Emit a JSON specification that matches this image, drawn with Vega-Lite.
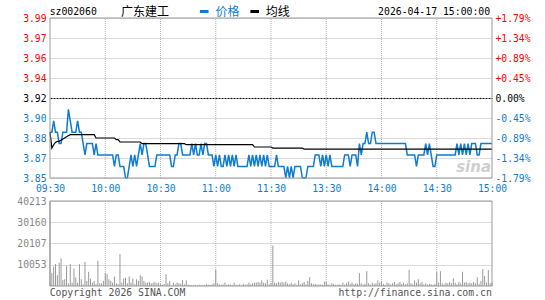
{
"$schema":"https://vega.github.io/schema/vega-lite/v6.json",
"width":442,"height":268,
"autosize":{"type":"none"},
"padding":{"left":50,"top":18,"right":53,"bottom":14},
"background":"white",
"config":{"view":{"stroke":null},"axis":{"labelFont":"DejaVu Sans Mono","labelFontSize":9.7,"ticks":false,"domain":false,"title":null,"labelOverlap":false}},
"datasets":{
"grid":[{"t":30},{"t":60},{"t":90},{"t":120},{"t":150},{"t":180},{"t":210}],
"minute":[
{"m":0,"p":3.89,"a":3.890,"v":40213},{"m":1,"p":3.89,"a":3.876,"v":6065},{"m":2,"p":3.90,"a":3.879,"v":9100},{"m":3,"p":3.89,"a":3.881,"v":10370},{"m":4,"p":3.89,"a":3.882,"v":5100},{"m":5,"p":3.88,"a":3.882,"v":11000},{"m":6,"p":3.88,"a":3.883,"v":13090},{"m":7,"p":3.89,"a":3.884,"v":2870},{"m":8,"p":3.89,"a":3.885,"v":3190},{"m":9,"p":3.89,"a":3.886,"v":9570},
{"m":10,"p":3.91,"a":3.887,"v":1200},{"m":11,"p":3.90,"a":3.8878,"v":10370},{"m":12,"p":3.89,"a":3.8878,"v":1600},{"m":13,"p":3.89,"a":3.8878,"v":8300},{"m":14,"p":3.89,"a":3.8878,"v":4000},{"m":15,"p":3.90,"a":3.8878,"v":1600},{"m":16,"p":3.89,"a":3.8878,"v":10370},{"m":17,"p":3.89,"a":3.8878,"v":3200},{"m":18,"p":3.88,"a":3.8878,"v":800},{"m":19,"p":3.87,"a":3.8878,"v":11490},
{"m":20,"p":3.88,"a":3.8878,"v":2400},{"m":21,"p":3.88,"a":3.8878,"v":6700},{"m":22,"p":3.88,"a":3.8878,"v":3500},{"m":23,"p":3.88,"a":3.8878,"v":1600},{"m":24,"p":3.87,"a":3.8878,"v":2400},{"m":25,"p":3.88,"a":3.8849,"v":1000},{"m":26,"p":3.87,"a":3.8849,"v":11970},{"m":27,"p":3.87,"a":3.8849,"v":1280},{"m":28,"p":3.87,"a":3.8849,"v":1280},{"m":29,"p":3.87,"a":3.8849,"v":2400},
{"m":30,"p":3.87,"a":3.8849,"v":6065},{"m":31,"p":3.87,"a":3.8849,"v":5590},{"m":32,"p":3.87,"a":3.8849,"v":3200},{"m":33,"p":3.87,"a":3.8849,"v":2400},{"m":34,"p":3.87,"a":3.8849,"v":1600},{"m":35,"p":3.86,"a":3.8849,"v":4470},{"m":36,"p":3.87,"a":3.8834,"v":1280},{"m":37,"p":3.87,"a":3.8834,"v":900},{"m":38,"p":3.86,"a":3.8814,"v":15160},{"m":39,"p":3.86,"a":3.8814,"v":1600},
{"m":40,"p":3.86,"a":3.8814,"v":3500},{"m":41,"p":3.85,"a":3.8814,"v":4000},{"m":42,"p":3.85,"a":3.8814,"v":1280},{"m":43,"p":3.86,"a":3.8814,"v":4500},{"m":44,"p":3.87,"a":3.8814,"v":1600},{"m":45,"p":3.86,"a":3.8814,"v":3500},{"m":46,"p":3.87,"a":3.8814,"v":800},{"m":47,"p":3.86,"a":3.8814,"v":3200},{"m":48,"p":3.87,"a":3.8814,"v":2400},{"m":49,"p":3.88,"a":3.8814,"v":5100},
{"m":50,"p":3.87,"a":3.8799,"v":4500},{"m":51,"p":3.88,"a":3.8799,"v":2400},{"m":52,"p":3.88,"a":3.8799,"v":1600},{"m":53,"p":3.87,"a":3.8799,"v":1600},{"m":54,"p":3.86,"a":3.8799,"v":1900},{"m":55,"p":3.86,"a":3.8799,"v":1280},{"m":56,"p":3.86,"a":3.8799,"v":1600},{"m":57,"p":3.86,"a":3.8799,"v":1900},{"m":58,"p":3.87,"a":3.8799,"v":1280},{"m":59,"p":3.87,"a":3.8799,"v":1600},
{"m":60,"p":3.87,"a":3.8799,"v":800},{"m":61,"p":3.87,"a":3.8799,"v":600},{"m":62,"p":3.87,"a":3.8799,"v":1000},{"m":63,"p":3.87,"a":3.8799,"v":5590},{"m":64,"p":3.87,"a":3.8799,"v":1280},{"m":65,"p":3.87,"a":3.8799,"v":2400},{"m":66,"p":3.86,"a":3.8799,"v":320},{"m":67,"p":3.86,"a":3.8799,"v":1600},{"m":68,"p":3.87,"a":3.8799,"v":800},{"m":69,"p":3.87,"a":3.8799,"v":1600},
{"m":70,"p":3.88,"a":3.8799,"v":1280},{"m":71,"p":3.88,"a":3.8799,"v":1100},{"m":72,"p":3.87,"a":3.8799,"v":2870},{"m":73,"p":3.87,"a":3.8799,"v":800},{"m":74,"p":3.87,"a":3.879,"v":2700},{"m":75,"p":3.87,"a":3.879,"v":600},{"m":76,"p":3.87,"a":3.879,"v":500},{"m":77,"p":3.88,"a":3.879,"v":400},{"m":78,"p":3.87,"a":3.879,"v":500},{"m":79,"p":3.88,"a":3.879,"v":500},
{"m":80,"p":3.87,"a":3.879,"v":400},{"m":81,"p":3.87,"a":3.879,"v":600},{"m":82,"p":3.88,"a":3.879,"v":500},{"m":83,"p":3.87,"a":3.879,"v":400},{"m":84,"p":3.88,"a":3.879,"v":500},{"m":85,"p":3.88,"a":3.879,"v":800},{"m":86,"p":3.87,"a":3.879,"v":600},{"m":87,"p":3.87,"a":3.879,"v":500},{"m":88,"p":3.87,"a":3.879,"v":800},{"m":89,"p":3.86,"a":3.879,"v":1280},
{"m":90,"p":3.87,"a":3.879,"v":7660},{"m":91,"p":3.86,"a":3.879,"v":1280},{"m":92,"p":3.87,"a":3.879,"v":800},{"m":93,"p":3.86,"a":3.879,"v":600},{"m":94,"p":3.86,"a":3.879,"v":800},{"m":95,"p":3.87,"a":3.879,"v":1600},{"m":96,"p":3.86,"a":3.879,"v":500},{"m":97,"p":3.87,"a":3.879,"v":800},{"m":98,"p":3.86,"a":3.879,"v":600},{"m":99,"p":3.87,"a":3.879,"v":500},
{"m":100,"p":3.86,"a":3.879,"v":1600},{"m":101,"p":3.87,"a":3.879,"v":600},{"m":102,"p":3.86,"a":3.879,"v":500},{"m":103,"p":3.86,"a":3.879,"v":800},{"m":104,"p":3.86,"a":3.879,"v":400},{"m":105,"p":3.86,"a":3.879,"v":1000},{"m":106,"p":3.86,"a":3.879,"v":600},{"m":107,"p":3.86,"a":3.879,"v":800},{"m":108,"p":3.87,"a":3.879,"v":1600},{"m":109,"p":3.86,"a":3.879,"v":800},
{"m":110,"p":3.87,"a":3.879,"v":1280},{"m":111,"p":3.86,"a":3.877,"v":1600},{"m":112,"p":3.87,"a":3.877,"v":1600},{"m":113,"p":3.86,"a":3.877,"v":1900},{"m":114,"p":3.87,"a":3.877,"v":1600},{"m":115,"p":3.86,"a":3.877,"v":2700},{"m":116,"p":3.87,"a":3.877,"v":1600},{"m":117,"p":3.86,"a":3.877,"v":1280},{"m":118,"p":3.87,"a":3.877,"v":3000},{"m":119,"p":3.86,"a":3.877,"v":800},
{"m":120,"p":3.86,"a":3.877,"v":1280},{"m":121,"p":3.86,"a":3.8761,"v":19150},{"m":122,"p":3.86,"a":3.8761,"v":1600},{"m":123,"p":3.87,"a":3.8761,"v":1280},{"m":124,"p":3.86,"a":3.8761,"v":1900},{"m":125,"p":3.86,"a":3.8761,"v":1600},{"m":126,"p":3.86,"a":3.8761,"v":1900},{"m":127,"p":3.86,"a":3.8761,"v":1600},{"m":128,"p":3.85,"a":3.8761,"v":2100},{"m":129,"p":3.86,"a":3.8761,"v":1280},
{"m":130,"p":3.85,"a":3.8761,"v":800},{"m":131,"p":3.86,"a":3.8761,"v":1600},{"m":132,"p":3.85,"a":3.8761,"v":800},{"m":133,"p":3.86,"a":3.8761,"v":1280},{"m":134,"p":3.86,"a":3.8761,"v":600},{"m":135,"p":3.86,"a":3.8761,"v":2700},{"m":136,"p":3.86,"a":3.8761,"v":800},{"m":137,"p":3.85,"a":3.8761,"v":1280},{"m":138,"p":3.85,"a":3.8752,"v":1900},{"m":139,"p":3.85,"a":3.8752,"v":800},
{"m":140,"p":3.86,"a":3.8752,"v":2400},{"m":141,"p":3.86,"a":3.8752,"v":4200},{"m":142,"p":3.86,"a":3.8752,"v":1280},{"m":143,"p":3.86,"a":3.8752,"v":800},{"m":144,"p":3.87,"a":3.8752,"v":1000},{"m":145,"p":3.87,"a":3.8752,"v":600},{"m":146,"p":3.87,"a":3.8752,"v":800},{"m":147,"p":3.86,"a":3.8752,"v":700},{"m":148,"p":3.87,"a":3.8752,"v":600},{"m":149,"p":3.86,"a":3.8752,"v":1900},
{"m":150,"p":3.87,"a":3.8752,"v":2100},{"m":151,"p":3.86,"a":3.8752,"v":800},{"m":152,"p":3.87,"a":3.8752,"v":600},{"m":153,"p":3.86,"a":3.8752,"v":1280},{"m":154,"p":3.86,"a":3.8752,"v":1000},{"m":155,"p":3.86,"a":3.8752,"v":600},{"m":156,"p":3.86,"a":3.8752,"v":600},{"m":157,"p":3.86,"a":3.8752,"v":800},{"m":158,"p":3.86,"a":3.8752,"v":500},{"m":159,"p":3.86,"a":3.8752,"v":1600},
{"m":160,"p":3.87,"a":3.8752,"v":600},{"m":161,"p":3.87,"a":3.8752,"v":1280},{"m":162,"p":3.87,"a":3.8752,"v":2100},{"m":163,"p":3.86,"a":3.8752,"v":1000},{"m":164,"p":3.87,"a":3.8752,"v":1600},{"m":165,"p":3.87,"a":3.8752,"v":800},{"m":166,"p":3.87,"a":3.8752,"v":1280},{"m":167,"p":3.86,"a":3.8752,"v":1000},{"m":168,"p":3.88,"a":3.8752,"v":6065},{"m":169,"p":3.87,"a":3.8752,"v":1280},
{"m":170,"p":3.88,"a":3.8752,"v":600},{"m":171,"p":3.88,"a":3.8752,"v":1000},{"m":172,"p":3.89,"a":3.8752,"v":7020},{"m":173,"p":3.88,"a":3.8752,"v":1280},{"m":174,"p":3.88,"a":3.8752,"v":600},{"m":175,"p":3.89,"a":3.8752,"v":1600},{"m":176,"p":3.89,"a":3.8752,"v":1000},{"m":177,"p":3.88,"a":3.8752,"v":1280},{"m":178,"p":3.88,"a":3.8752,"v":2700},{"m":179,"p":3.88,"a":3.8752,"v":1600},
{"m":180,"p":3.88,"a":3.8752,"v":2400},{"m":181,"p":3.88,"a":3.8752,"v":1000},{"m":182,"p":3.88,"a":3.8752,"v":600},{"m":183,"p":3.88,"a":3.8752,"v":1600},{"m":184,"p":3.88,"a":3.8752,"v":1280},{"m":185,"p":3.88,"a":3.8752,"v":800},{"m":186,"p":3.88,"a":3.8752,"v":1280},{"m":187,"p":3.88,"a":3.8752,"v":1900},{"m":188,"p":3.88,"a":3.8752,"v":800},{"m":189,"p":3.88,"a":3.8752,"v":1280},
{"m":190,"p":3.88,"a":3.8752,"v":1900},{"m":191,"p":3.88,"a":3.8752,"v":1000},{"m":192,"p":3.88,"a":3.8752,"v":1600},{"m":193,"p":3.88,"a":3.8752,"v":800},{"m":194,"p":3.87,"a":3.8752,"v":1280},{"m":195,"p":3.87,"a":3.8752,"v":7660},{"m":196,"p":3.87,"a":3.8752,"v":1280},{"m":197,"p":3.87,"a":3.8752,"v":800},{"m":198,"p":3.87,"a":3.8752,"v":2700},{"m":199,"p":3.86,"a":3.8752,"v":1600},
{"m":200,"p":3.87,"a":3.8752,"v":3200},{"m":201,"p":3.87,"a":3.8752,"v":1280},{"m":202,"p":3.87,"a":3.8752,"v":1900},{"m":203,"p":3.87,"a":3.8752,"v":800},{"m":204,"p":3.88,"a":3.8752,"v":1280},{"m":205,"p":3.87,"a":3.8752,"v":600},{"m":206,"p":3.88,"a":3.8752,"v":1000},{"m":207,"p":3.87,"a":3.8752,"v":800},{"m":208,"p":3.86,"a":3.8752,"v":600},{"m":209,"p":3.86,"a":3.8752,"v":1000},
{"m":210,"p":3.87,"a":3.8752,"v":6700},{"m":211,"p":3.87,"a":3.8752,"v":1600},{"m":212,"p":3.87,"a":3.8752,"v":7020},{"m":213,"p":3.87,"a":3.8752,"v":1280},{"m":214,"p":3.87,"a":3.8752,"v":800},{"m":215,"p":3.87,"a":3.8752,"v":1600},{"m":216,"p":3.87,"a":3.8752,"v":1280},{"m":217,"p":3.87,"a":3.8752,"v":1900},{"m":218,"p":3.87,"a":3.8752,"v":1280},{"m":219,"p":3.87,"a":3.8752,"v":3670},
{"m":220,"p":3.87,"a":3.8752,"v":1600},{"m":221,"p":3.88,"a":3.8752,"v":800},{"m":222,"p":3.87,"a":3.8752,"v":1900},{"m":223,"p":3.88,"a":3.8752,"v":1280},{"m":224,"p":3.87,"a":3.8752,"v":6700},{"m":225,"p":3.88,"a":3.8752,"v":1600},{"m":226,"p":3.87,"a":3.8752,"v":1900},{"m":227,"p":3.88,"a":3.8752,"v":1280},{"m":228,"p":3.87,"a":3.8752,"v":1600},{"m":229,"p":3.88,"a":3.8752,"v":1280},
{"m":230,"p":3.88,"a":3.8752,"v":1900},{"m":231,"p":3.88,"a":3.8752,"v":1280},{"m":232,"p":3.87,"a":3.8752,"v":4150},{"m":233,"p":3.87,"a":3.8752,"v":1000},{"m":234,"p":3.88,"a":3.8752,"v":2400},{"m":235,"p":3.88,"a":3.8752,"v":7980},{"m":236,"p":3.88,"a":3.8752,"v":4790},{"m":237,"p":3.88,"a":3.8752,"v":1600},{"m":238,"p":3.88,"a":3.8752,"v":7500},{"m":239,"p":3.88,"a":3.8752,"v":1280},
{"m":240,"p":3.88,"a":3.8752,"v":1600}
]},
"layer":[
{
"layer":[
{"data":{"values":[{"label":"sina"}]},"mark":{"type":"text","font":"DejaVu Sans","fontWeight":"bold","fontStyle":"italic","fontSize":15,"fill":"#cfcfcf","align":"center","baseline":"middle"},
 "encoding":{"x":{"datum":230,"type":"quantitative","scale":{"domain":[0,240],"nice":false,"zero":false}},"y":{"datum":3.8595,"type":"quantitative","scale":{"domain":[3.8498,3.9902],"range":[160,0],"nice":false,"zero":false},"axis":null},"text":{"field":"label"}}},
{"data":{"name":"grid"},"mark":{"type":"rule","color":"#b4b4b4","strokeDash":[1,1],"strokeWidth":1},
 "encoding":{"x":{"field":"t","type":"quantitative","scale":{"domain":[0,240],"nice":false,"zero":false}},"y":{"datum":3.8498,"type":"quantitative","scale":{"domain":[3.8498,3.9902],"range":[160,0],"nice":false,"zero":false},"axis":null},"y2":{"datum":3.9902}}},
{"data":{"name":"minute"},"mark":{"type":"line","color":"#0e7ccf","strokeWidth":1.5},
 "encoding":{
  "x":{"field":"m","type":"quantitative","scale":{"domain":[0,240],"nice":false,"zero":false},
   "axis":{"orient":"bottom","offset":-108,"title":null,"values":[0,30,60,90,120,150,180,210,240],"labelExpr":"['09:30','10:00','10:30','11:00','11:30','13:30','14:00','14:30','15:00'][round(datum.value/30)]","labelColor":"#0e7ccf","labelFlush":false,"labelBound":false,"labelPadding":5,"grid":false,"ticks":false,"domain":false}},
  "y":{"field":"p","type":"quantitative","scale":{"domain":[3.8498,3.9902],"range":[160,0],"nice":false,"zero":false},
   "axis":{"orient":"left","values":[3.8498,3.86735,3.8849,3.90245,3.92,3.93755,3.9551,3.97265,3.9902],"format":".2f","labelPadding":4,"grid":true,
    "gridColor":{"condition":{"test":"abs(datum.value-3.92)<0.001","value":"#000000"},"value":"#b4b4b4"},
    "gridDash":{"condition":{"test":"abs(datum.value-3.92)<0.001","value":[2,1]},"value":[1,1]},
    "labelColor":{"condition":[{"test":"datum.value>3.921","value":"#ff0000"},{"test":"datum.value<3.919","value":"#0e7ccf"}],"value":"#000000"}}}}},
{"data":{"name":"minute"},"mark":{"type":"line","color":"#000000","strokeWidth":1.2},
 "encoding":{
  "x":{"field":"m","type":"quantitative","scale":{"domain":[0,240],"nice":false,"zero":false}},
  "y":{"field":"a","type":"quantitative","scale":{"domain":[3.8498,3.9902],"range":[160,0],"nice":false,"zero":false},
   "axis":{"orient":"right","values":[3.8498,3.86735,3.8849,3.90245,3.92,3.93755,3.9551,3.97265,3.9902],"labelExpr":"['-1.79%','-1.34%','-0.89%','-0.45%','\u00a00.00%','+0.45%','+0.89%','+1.34%','+1.79%'][round((datum.value-3.8498)/0.01755)]","labelAlign":"left","labelPadding":3,"grid":false,
    "labelColor":{"condition":[{"test":"datum.value>3.921","value":"#ff0000"},{"test":"datum.value<3.919","value":"#0e7ccf"}],"value":"#000000"}}}}},
{"data":{"values":[{}]},"mark":{"type":"rect","fillOpacity":0,"stroke":"#999999","strokeWidth":1},
 "encoding":{"x":{"datum":0,"type":"quantitative","scale":{"domain":[0,240],"nice":false,"zero":false}},"x2":{"datum":240},"y":{"datum":3.8498,"type":"quantitative","scale":{"domain":[3.8498,3.9902],"range":[160,0],"nice":false,"zero":false},"axis":null},"y2":{"datum":3.9902}}},
{"data":{"values":[{"label":"sz002060"}]},"mark":{"type":"text","align":"left","baseline":"middle","font":"DejaVu Sans Mono","fontSize":9.8,"fill":"#000000"},
 "encoding":{"x":{"datum":-0.2,"type":"quantitative","scale":{"domain":[0,240],"nice":false,"zero":false}},"y":{"datum":3.9959,"type":"quantitative","scale":{"domain":[3.8498,3.9902],"range":[160,0],"nice":false,"zero":false},"axis":null},"text":{"field":"label"}}},
{"data":{"values":[{"label":"广东建工"}]},"mark":{"type":"text","align":"left","baseline":"middle","font":"Noto Sans CJK SC","fontSize":12,"fill":"#000000"},
 "encoding":{"x":{"datum":38.6,"type":"quantitative","scale":{"domain":[0,240],"nice":false,"zero":false}},"y":{"datum":3.9959,"type":"quantitative","scale":{"domain":[3.8498,3.9902],"range":[160,0],"nice":false,"zero":false},"axis":null},"text":{"field":"label"}}},
{"data":{"values":[{"label":"价格"}]},"mark":{"type":"text","align":"left","baseline":"middle","font":"Noto Sans CJK SC","fontSize":12,"fill":"#0e7ccf"},
 "encoding":{"x":{"datum":89.9,"type":"quantitative","scale":{"domain":[0,240],"nice":false,"zero":false}},"y":{"datum":3.9959,"type":"quantitative","scale":{"domain":[3.8498,3.9902],"range":[160,0],"nice":false,"zero":false},"axis":null},"text":{"field":"label"}}},
{"data":{"values":[{"label":"均线"}]},"mark":{"type":"text","align":"left","baseline":"middle","font":"Noto Sans CJK SC","fontSize":12,"fill":"#000000"},
 "encoding":{"x":{"datum":117.2,"type":"quantitative","scale":{"domain":[0,240],"nice":false,"zero":false}},"y":{"datum":3.9959,"type":"quantitative","scale":{"domain":[3.8498,3.9902],"range":[160,0],"nice":false,"zero":false},"axis":null},"text":{"field":"label"}}},
{"data":{"values":[{"label":"2026-04-17 15:00:00"}]},"mark":{"type":"text","align":"right","baseline":"middle","font":"DejaVu Sans Mono","fontSize":9.8,"fill":"#000000"},
 "encoding":{"x":{"datum":239,"type":"quantitative","scale":{"domain":[0,240],"nice":false,"zero":false}},"y":{"datum":3.9959,"type":"quantitative","scale":{"domain":[3.8498,3.9902],"range":[160,0],"nice":false,"zero":false},"axis":null},"text":{"field":"label"}}},
{"data":{"values":[{}]},"mark":{"type":"rule","color":"#0e7ccf","strokeWidth":3},
 "encoding":{"x":{"datum":81.4,"type":"quantitative","scale":{"domain":[0,240],"nice":false,"zero":false}},"x2":{"datum":86.1},"y":{"datum":3.9959,"type":"quantitative","scale":{"domain":[3.8498,3.9902],"range":[160,0],"nice":false,"zero":false},"axis":null}}},
{"data":{"values":[{}]},"mark":{"type":"rule","color":"#000000","strokeWidth":3},
 "encoding":{"x":{"datum":108.8,"type":"quantitative","scale":{"domain":[0,240],"nice":false,"zero":false}},"x2":{"datum":113.5},"y":{"datum":3.9959,"type":"quantitative","scale":{"domain":[3.8498,3.9902],"range":[160,0],"nice":false,"zero":false},"axis":null}}}
],
"resolve":{"axis":{"y":"independent"}}
},
{
"layer":[
{"data":{"name":"grid"},"mark":{"type":"rule","color":"#b4b4b4","strokeDash":[1,1],"strokeWidth":1},
 "encoding":{"x":{"field":"t","type":"quantitative","scale":{"domain":[0,240],"nice":false,"zero":false}},"y":{"datum":0,"type":"quantitative","scale":{"domain":[0,40213],"range":[268,183],"nice":false,"zero":false}},"y2":{"datum":40213}}},
{"data":{"name":"minute"},"mark":{"type":"rule","color":"#999999","strokeWidth":1},
 "encoding":{"x":{"field":"m","type":"quantitative","scale":{"domain":[0,240],"nice":false,"zero":false}},
  "y":{"field":"v","type":"quantitative","scale":{"domain":[0,40213],"range":[268,183],"nice":false,"zero":false},
   "axis":{"orient":"left","title":null,"values":[10053,20107,30160,40213],"format":"d","labelColor":"#888888","labelPadding":4,"grid":true,"gridColor":"#b4b4b4","gridDash":[1,1],"ticks":false,"domain":false}},
  "y2":{"datum":0}}},
{"data":{"values":[{}]},"mark":{"type":"rect","fillOpacity":0,"stroke":"#999999","strokeWidth":1},
 "encoding":{"x":{"datum":0,"type":"quantitative","scale":{"domain":[0,240],"nice":false,"zero":false}},"x2":{"datum":240},"y":{"datum":0,"type":"quantitative","scale":{"domain":[0,40213],"range":[268,183],"nice":false,"zero":false}},"y2":{"datum":40213}}},
{"data":{"values":[{"label":"Copyright 2026 SINA.COM"}]},"mark":{"type":"text","align":"left","baseline":"middle","font":"DejaVu Sans Mono","fontSize":9.8,"fill":"#555555"},
 "encoding":{"x":{"datum":-0.2,"type":"quantitative","scale":{"domain":[0,240],"nice":false,"zero":false}},"y":{"datum":-3312,"type":"quantitative","scale":{"domain":[0,40213],"range":[268,183],"nice":false,"zero":false}},"text":{"field":"label"}}},
{"data":{"values":[{"label":"http://finance.sina.com.cn"}]},"mark":{"type":"text","align":"right","baseline":"middle","font":"DejaVu Sans Mono","fontSize":9.8,"fill":"#555555"},
 "encoding":{"x":{"datum":239.9,"type":"quantitative","scale":{"domain":[0,240],"nice":false,"zero":false}},"y":{"datum":-3312,"type":"quantitative","scale":{"domain":[0,40213],"range":[268,183],"nice":false,"zero":false}},"text":{"field":"label"}}}
]
}
],
"resolve":{"scale":{"y":"independent"}}
}
